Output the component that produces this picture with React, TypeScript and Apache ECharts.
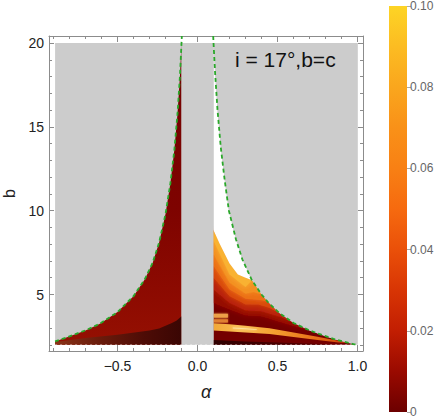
import React, { useEffect, useRef } from 'react';
import * as echarts from 'echarts';

// ---- axis ticks ----
const X_MAJOR = [-0.5, 0, 0.5, 1.0];
const X_MINOR = [-0.9, -0.8, -0.7, -0.6, -0.4, -0.3, -0.2, -0.1, 0.1, 0.2, 0.3, 0.4, 0.6, 0.7, 0.8, 0.9];
const Y_MAJOR = [5, 10, 15, 20];
const Y_MINOR = [2, 3, 4, 6, 7, 8, 9, 11, 12, 13, 14, 16, 17, 18, 19];

// ---- colour bar (value fraction -> colour) ----
const COLOR_STOPS: [number, string][] = [
  [0, '#6c0000'], [0.1, '#9a0a00'], [0.2, '#c21e02'], [0.3, '#d83504'], [0.4, '#ea5009'],
  [0.5, '#f66a0f'], [0.6, '#f88014'], [0.7, '#f99118'], [0.8, '#faa61d'], [0.9, '#fcbc22'], [1, '#fdd425'],
];
const BAR_MAX = 0.1;

// ---- regions [alpha, b] ----
const GRAY_REGION = [[-0.89, 2], [1.0, 2], [1.0, 20], [-0.89, 20]];
const GAP_REGION = [[-0.1, 2], [0.1, 2], [0.1, 20], [-0.1, 20]];

const LEFT_CURVE = [
  [-0.89, 2.2], [-0.82, 2.43], [-0.7, 2.86], [-0.61, 3.26], [-0.5, 3.95], [-0.4, 4.9], [-0.33, 5.9],
  [-0.28, 6.9], [-0.24, 8.1], [-0.2, 9.8], [-0.17, 11.6], [-0.145, 13.6], [-0.125, 15.8],
  [-0.11, 18.0], [-0.1, 20.0], [-0.098, 20.42],
];
const RIGHT_CURVE = [
  [0.098, 20.42], [0.1, 20.0], [0.11, 18.2], [0.125, 16.0], [0.145, 13.8], [0.17, 11.8], [0.196, 10.0],
  [0.24, 8.3], [0.28, 7.1], [0.34, 5.85], [0.4, 5.0], [0.44, 4.55], [0.51, 3.9], [0.6, 3.3],
  [0.7, 2.86], [0.76, 2.65], [0.85, 2.35], [0.92, 2.17], [0.98, 2.03], [1.0, 2.0],
];

const LEFT_DARK_BAND = [
  [-0.89, 2.17], [-0.7, 2.4], [-0.5, 2.6], [-0.3, 2.85], [-0.24, 2.97], [-0.16, 3.3], [-0.13, 3.45],
  [-0.1, 3.7], [-0.1, 2.0], [-0.89, 2.0],
];

const WHITE_BOUNDARY = [[0.3, 6.0], [0.252, 6.2], [0.2, 6.85], [0.1375, 8.04], [0.1, 8.84]];

// top edge of the coloured right region (white boundary, then the curve)
const R_TOP_EDGE = [
  [0.1, 8.84], [0.1375, 8.04], [0.2, 6.85], [0.252, 6.2], [0.3, 6.0], [0.34, 5.85], [0.4, 5.0],
  [0.44, 4.55], [0.51, 3.9], [0.6, 3.3], [0.7, 2.86], [0.76, 2.65], [0.85, 2.35], [0.92, 2.17],
  [0.98, 2.03], [1.0, 2.0],
];
const R_BANDS = [
  { end: 0.72, color: '#950800', inner: [[0.62, 3.05], [0.5, 3.4], [0.4, 3.7], [0.3, 3.75], [0.2, 4.1], [0.1, 4.5]] },
  { end: 0.62, color: '#b82008', inner: [[0.52, 3.65], [0.4, 4.0], [0.3, 4.05], [0.2, 4.5], [0.1, 5.3]] },
  { end: 0.53, color: '#d84810', inner: [[0.45, 4.2], [0.38, 4.4], [0.3, 4.4], [0.2, 4.9], [0.1, 6.0]] },
  { end: 0.46, color: '#ec7016', inner: [[0.4, 4.65], [0.3, 4.75], [0.2, 5.3], [0.1, 6.7]] },
  { end: 0.41, color: '#f39020', inner: [[0.35, 5.15], [0.3, 5.05], [0.2, 5.7], [0.1, 7.4]] },
  { end: 0.37, color: '#f9b232', inner: [[0.3, 5.45], [0.2, 6.2], [0.1, 8.2]] },
];
const R_STRIPE_A = [[0.1, 3.62], [0.19, 3.62], [0.19, 3.85], [0.1, 3.85]];
const R_STRIPE_B = [[0.1, 3.33], [0.19, 3.33], [0.19, 3.52], [0.1, 3.52]];
const R_STRIPE_LONG = [
  [0.1, 3.28], [0.2, 3.22], [0.3, 3.13], [0.45, 2.98], [0.6, 2.74], [0.75, 2.48], [0.88, 2.24], [0.95, 2.1],
  [0.88, 2.14], [0.75, 2.28], [0.6, 2.46], [0.45, 2.64], [0.3, 2.74], [0.2, 2.8], [0.1, 2.86],
];
const R_STRIPE_CORE = [[0.22, 3.03], [0.3, 2.99], [0.37, 2.93], [0.37, 2.88], [0.3, 2.93], [0.22, 2.97]];
const R_BOTTOM_DARK = [[0.1, 2.0], [0.9, 2.0], [0.6, 2.1], [0.3, 2.2], [0.1, 2.28]];
const BOTTOM_EDGE = [[-0.89, 2], [1.0, 2]];

const LABEL = 'i = 17°,b=c';

const FONT = 'Liberation Sans, Arial, sans-serif';
const FRAME = '#8c8c8c';
const GRAY = '#cccccc';

function poly(pts: number[][], fill: any, z = 2, blur = 0) {
  return {
    type: 'custom',
    coordinateSystem: 'cartesian2d',
    xAxisIndex: 0,
    yAxisIndex: 0,
    silent: true,
    clip: true,
    z,
    data: pts,
    renderItem: (params: any, api: any) => {
      if (params.dataIndex !== 0) return null;
      const style: any = { fill, stroke: null };
      if (blur > 0 && typeof fill === 'string') {
        style.shadowBlur = blur;
        style.shadowColor = fill;
      }
      return { type: 'polygon', shape: { points: pts.map((p) => api.coord(p)) }, style };
    },
  };
}

function lin(x: number, y: number, x2: number, y2: number, stops: [number, string][]) {
  return new echarts.graphic.LinearGradient(x, y, x2, y2, stops.map(([offset, color]) => ({ offset, color })));
}

export default function App() {
  const ref = useRef<HTMLDivElement>(null);
  useEffect(() => {
    if (!ref.current) return;
    const chart = echarts.init(ref.current, undefined, { renderer: 'svg' });

    const xRange = { min: -0.928, max: 1.034 };
    const yRange = { min: 1.63, max: 20.42 };
    const baseX = (pos: string, ticks: number[], len: number, labels: boolean, line: boolean) => ({
      type: 'value', gridIndex: 0, position: pos, ...xRange,
      axisLine: { show: line, onZero: false, lineStyle: { color: FRAME, width: 1 } },
      axisTick: { show: true, inside: true, length: len, customValues: ticks, lineStyle: { color: FRAME } },
      axisLabel: labels
        ? {
            show: true, customValues: ticks, margin: 8, color: '#222', fontSize: 14, fontFamily: FONT,
            formatter: (v: number) => (v < 0 ? '\u2212' : '') + Math.abs(v).toFixed(1),
          }
        : { show: false },
      splitLine: { show: false },
    });
    const baseY = (pos: string, ticks: number[], len: number, labels: boolean, line: boolean) => ({
      type: 'value', gridIndex: 0, position: pos, ...yRange,
      axisLine: { show: line, onZero: false, lineStyle: { color: FRAME, width: 1 } },
      axisTick: { show: true, inside: true, length: len, customValues: ticks, lineStyle: { color: FRAME } },
      axisLabel: labels
        ? { show: true, customValues: ticks, margin: 5, color: '#222', fontSize: 14, fontFamily: FONT }
        : { show: false },
      splitLine: { show: false },
    });

    const xMain: any = baseX('bottom', X_MAJOR, 6, true, true);
    xMain.name = 'α';
    xMain.nameLocation = 'middle';
    xMain.nameGap = 32;
    xMain.nameTextStyle = { fontSize: 18, fontStyle: 'italic', fontFamily: FONT, color: '#222' };
    const yMain: any = baseY('left', Y_MAJOR, 5, true, true);
    yMain.name = 'b';
    yMain.nameLocation = 'middle';
    yMain.nameGap = 29;
    yMain.nameRotate = 90;
    yMain.nameTextStyle = { fontSize: 16, fontFamily: FONT, color: '#222' };

    const leftFill = LEFT_CURVE.filter((p) => p[1] <= 20).concat([[-0.1, 2.0], [-0.89, 2.0]]);
    const rightBase = R_TOP_EDGE.concat([[0.1, 2.0]]);
    const whitePoly = RIGHT_CURVE.filter((p) => p[1] <= 20 && p[0] <= 0.34).concat(WHITE_BOUNDARY);
    const rightMask = RIGHT_CURVE.filter((p) => p[1] <= 20).concat([[1.0, 20]]);

    const bands = R_BANDS.map((b) =>
      poly(R_TOP_EDGE.filter((p) => p[0] <= b.end).concat(b.inner), b.color, 3, 5)
    );

    const curveLine = (data: number[][]) => ({
      type: 'line', xAxisIndex: 0, yAxisIndex: 0, data, symbol: 'none', silent: true, z: 6,
      lineStyle: { color: '#2aa82a', width: 1.8, type: [4, 3] },
    });

    chart.setOption({
      animation: false,
      grid: [
        { left: 49, top: 36, width: 314, height: 315, containLabel: false, outerBoundsMode: 'none' },
        { left: 389, top: 6, width: 18, height: 406, containLabel: false, outerBoundsMode: 'none' },
      ],
      xAxis: [
        xMain,
        baseX('bottom', X_MINOR, 3, false, false),
        baseX('top', X_MAJOR, 6, false, true),
        baseX('top', X_MINOR, 3, false, false),
        { type: 'category', gridIndex: 1, data: ['c'], show: false },
      ],
      yAxis: [
        yMain,
        baseY('left', Y_MINOR, 3, false, false),
        baseY('right', Y_MAJOR, 5, false, true),
        baseY('right', Y_MINOR, 3, false, false),
        {
          type: 'value', gridIndex: 1, position: 'right', min: 0, max: BAR_MAX, interval: 0.02,
          axisLine: { show: false },
          axisTick: { show: true, inside: false, length: 4, lineStyle: { color: '#aaa' } },
          axisLabel: {
            show: true, margin: 3, color: '#666', fontSize: 12, fontFamily: FONT,
            formatter: (v: number) => (v === 0 ? '0' : v.toFixed(2)),
          },
          splitLine: { show: false },
        },
      ],
      graphic: [
        {
          type: 'text', left: 235, top: 49, z: 20,
          style: { text: LABEL, fontSize: 21, fontFamily: FONT, fill: '#111' },
        },
      ],
      series: [
        poly(GRAY_REGION, GRAY, 1),
        poly(leftFill, lin(0, 0, 0, 1, [[0, '#720000'], [0.55, '#7e0300'], [0.85, '#8e0b01'], [1, '#951002']]), 2),
        poly(LEFT_DARK_BAND, lin(0, 0, 1, 0, [[0, '#8a3418'], [0.35, '#6a1c0c'], [0.7, '#4e0c06'], [1, '#3a0603']]), 3),
        poly(rightBase, '#740000', 2),
        ...bands,
        poly(R_STRIPE_A, '#eca048', 4, 2),
        poly(R_STRIPE_B, '#e08030', 4, 2),
        poly(R_STRIPE_LONG, lin(0, 0, 1, 0, [[0, '#f2a838'], [0.2, '#f9bc50'], [0.45, '#f5a030'], [0.75, '#e87018'], [1, '#c83a08']]), 4),
        poly(R_STRIPE_CORE, '#fce0a0', 4, 3),
        poly(R_BOTTOM_DARK, lin(0, 0, 1, 0, [[0, '#2e0000'], [1, '#600000']]), 4),
        poly(whitePoly, '#ffffff', 5),
        poly(rightMask, GRAY, 5),
        poly(GAP_REGION, GRAY, 5),
        {
          type: 'line', xAxisIndex: 0, yAxisIndex: 0, data: BOTTOM_EDGE, symbol: 'none', silent: true, z: 6,
          lineStyle: { color: 'rgba(255,255,255,0.5)', width: 1, type: [2, 3] },
        },
        curveLine(LEFT_CURVE),
        curveLine(RIGHT_CURVE),
        {
          type: 'bar', xAxisIndex: 4, yAxisIndex: 4, data: [BAR_MAX], barWidth: '100%', silent: true,
          itemStyle: { color: lin(0, 1, 0, 0, COLOR_STOPS) },
        },
      ],
    });
    return () => chart.dispose();
  }, []);
  return <div ref={ref} style={{ width: 436, height: 418, position: 'absolute', left: 0, top: 0 }} />;
}
